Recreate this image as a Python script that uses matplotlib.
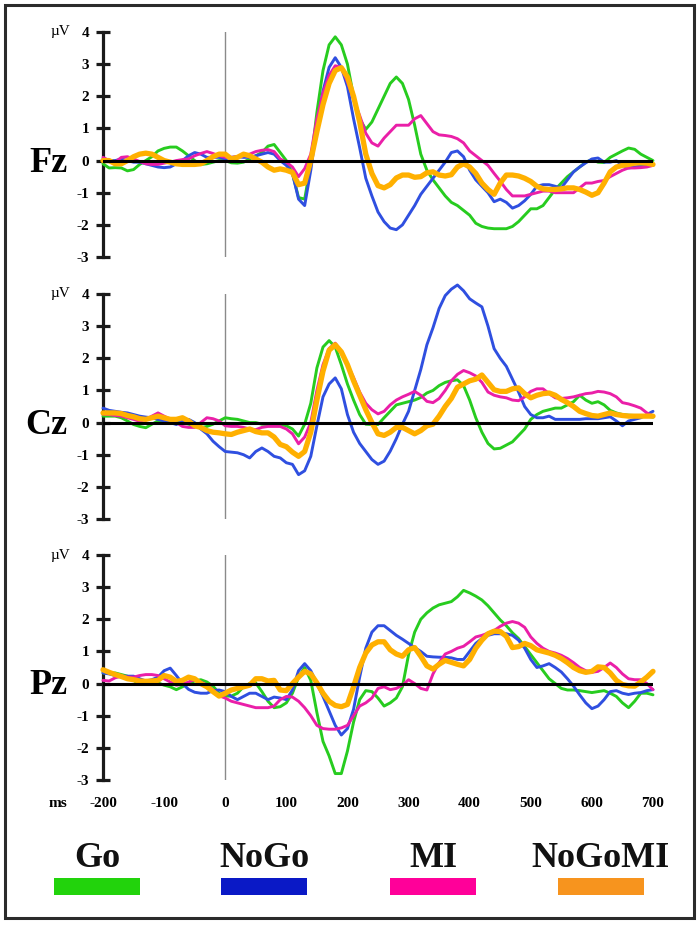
"""
ERP grand averages at Fz, Cz and Pz for the Go / NoGo / MI / NoGoMI conditions.
"""
import matplotlib
matplotlib.use("Agg")
import matplotlib.pyplot as plt
from matplotlib.patches import Rectangle
from matplotlib.transforms import blended_transform_factory

plt.rcParams["font.family"] = ["Liberation Serif", "DejaVu Serif"]
plt.rcParams["axes.unicode_minus"] = False

# ── Data (µV, sampled every 10 ms from -200 to 700 ms) ───────────────────────
TIME_MS = list(range(-200, 701, 10))

CONDITIONS = ["Go", "NoGo", "MI", "NoGoMI"]
ELECTRODES = ["Fz", "Cz", "Pz"]

FZ_GO = [
    -0.10, -0.23, -0.22, -0.23, -0.32, -0.28, -0.12, 0.00, 0.12, 0.30,
    0.38, 0.42, 0.42, 0.30, 0.15, 0.00, -0.12, -0.10, -0.05, 0.00,
    0.00, -0.07, -0.08, -0.05, 0.05, 0.15, 0.25, 0.45, 0.50, 0.25,
    0.00, -0.40, -1.15, -1.20, -0.10, 1.50, 2.80, 3.60, 3.85, 3.60,
    3.00, 2.00, 1.30, 0.97, 1.20, 1.60, 2.00, 2.40, 2.60, 2.40,
    1.90, 1.10, 0.20, -0.30, -0.60, -0.85, -1.10, -1.30, -1.40, -1.55,
    -1.70, -1.95, -2.05, -2.10, -2.12, -2.12, -2.12, -2.05, -1.90, -1.70,
    -1.50, -1.50, -1.40, -1.15, -0.90, -0.70, -0.50, -0.35, -0.20, -0.05,
    0.03, -0.05, -0.06, 0.10, 0.20, 0.30, 0.39, 0.35, 0.20, 0.10,
    0.00,
]
FZ_NOGO = [
    0.05, 0.00, 0.00, 0.05, 0.00, -0.05, -0.05, -0.10, -0.15, -0.20,
    -0.22, -0.20, -0.10, 0.00, 0.15, 0.25, 0.20, 0.10, 0.10, 0.10,
    0.05, 0.10, 0.12, 0.10, 0.10, 0.15, 0.20, 0.25, 0.20, 0.00,
    -0.15, -0.40, -1.20, -1.40, -0.30, 1.10, 2.16, 2.90, 3.20, 2.90,
    2.30, 1.30, 0.40, -0.55, -1.10, -1.60, -1.90, -2.10, -2.15, -2.00,
    -1.70, -1.40, -1.05, -0.80, -0.55, -0.30, -0.05, 0.25, 0.30, 0.12,
    -0.30, -0.60, -0.80, -1.00, -1.28, -1.20, -1.30, -1.48, -1.40, -1.25,
    -1.05, -0.80, -0.75, -0.75, -0.80, -0.85, -0.60, -0.35, -0.20, -0.07,
    0.05, 0.08, -0.05, -0.05, 0.00, -0.15, -0.23, -0.20, -0.17, -0.15,
    -0.15,
]
FZ_MI = [
    0.10, 0.00, -0.05, 0.10, 0.12, 0.05, -0.03, -0.10, -0.12, -0.12,
    -0.08, -0.05, 0.00, 0.03, 0.05, 0.15, 0.22, 0.28, 0.22, 0.15,
    0.10, 0.10, 0.12, 0.15, 0.20, 0.28, 0.32, 0.34, 0.28, 0.05,
    -0.05, -0.20, -0.50, -0.25, 0.20, 1.30, 2.10, 2.65, 2.95, 2.90,
    2.45, 1.90, 1.40, 0.85, 0.55, 0.45, 0.70, 0.90, 1.10, 1.10,
    1.10, 1.30, 1.40, 1.15, 0.90, 0.80, 0.78, 0.75, 0.68, 0.55,
    0.30, 0.15, 0.00, -0.15, -0.40, -0.64, -0.90, -1.10, -1.10, -1.10,
    -1.05, -1.00, -0.95, -0.95, -1.00, -1.00, -1.00, -1.00, -0.85, -0.70,
    -0.70, -0.65, -0.62, -0.50, -0.40, -0.30, -0.23, -0.23, -0.22, -0.20,
    -0.15,
]
FZ_NOGOMI = [
    0.00, 0.00, -0.10, -0.10, 0.00, 0.12, 0.20, 0.23, 0.20, 0.10,
    0.00, -0.05, -0.10, -0.12, -0.12, -0.12, -0.10, 0.00, 0.12, 0.20,
    0.20, 0.05, 0.10, 0.20, 0.15, 0.05, -0.05, -0.20, -0.30, -0.26,
    -0.30, -0.37, -0.75, -0.70, 0.00, 0.90, 1.74, 2.40, 2.80, 2.89,
    2.60, 2.00, 1.20, 0.20, -0.40, -0.78, -0.85, -0.75, -0.54, -0.45,
    -0.45, -0.52, -0.50, -0.38, -0.35, -0.45, -0.48, -0.44, -0.20, -0.10,
    -0.20, -0.40, -0.70, -0.90, -1.05, -0.70, -0.45, -0.45, -0.48, -0.55,
    -0.65, -0.80, -0.88, -0.90, -0.90, -0.88, -0.85, -0.85, -0.90, -0.98,
    -1.08, -1.00, -0.70, -0.35, -0.20, -0.15, -0.12, -0.08, -0.07, -0.08,
    -0.12,
]

CZ_GO = [
    0.20, 0.20, 0.20, 0.15, 0.05, -0.06, -0.12, -0.16, -0.05, 0.05,
    0.05, 0.05, 0.05, 0.00, -0.05, -0.10, -0.16, -0.12, -0.05, 0.05,
    0.15, 0.12, 0.10, 0.05, 0.00, 0.00, -0.05, -0.06, -0.06, -0.06,
    -0.10, -0.20, -0.42, -0.05, 0.60, 1.70, 2.35, 2.55, 2.35, 1.80,
    1.20, 0.70, 0.25, -0.05, -0.06, -0.06, 0.15, 0.35, 0.55, 0.60,
    0.65, 0.70, 0.78, 0.92, 1.00, 1.15, 1.25, 1.30, 1.33, 1.15,
    0.70, 0.15, -0.30, -0.65, -0.82, -0.80, -0.70, -0.60, -0.40, -0.20,
    0.10, 0.25, 0.35, 0.40, 0.45, 0.45, 0.55, 0.65, 0.85, 0.70,
    0.60, 0.65, 0.55, 0.38, 0.30, 0.25, 0.23, 0.22, 0.22, 0.20,
    0.17,
]
CZ_NOGO = [
    0.45, 0.38, 0.35, 0.32, 0.30, 0.25, 0.20, 0.17, 0.15, 0.10,
    0.05, 0.00, -0.06, 0.05, 0.10, 0.00, -0.20, -0.35, -0.58, -0.75,
    -0.90, -0.92, -0.94, -1.00, -1.10, -0.90, -0.79, -0.90, -1.05, -1.10,
    -1.25, -1.30, -1.62, -1.50, -1.05, -0.10, 0.80, 1.20, 1.39, 1.05,
    0.25, -0.30, -0.65, -0.90, -1.15, -1.30, -1.20, -0.89, -0.50, -0.05,
    0.35, 1.00, 1.65, 2.42, 2.95, 3.55, 3.95, 4.15, 4.28, 4.10,
    3.85, 3.72, 3.60, 3.00, 2.30, 2.00, 1.75, 1.35, 0.95, 0.50,
    0.25, 0.15, 0.15, 0.20, 0.10, 0.10, 0.10, 0.10, 0.10, 0.12,
    0.12, 0.12, 0.15, 0.18, 0.05, -0.10, 0.05, 0.10, 0.15, 0.25,
    0.35,
]
CZ_MI = [
    0.26, 0.25, 0.22, 0.20, 0.15, 0.10, 0.04, 0.10, 0.20, 0.30,
    0.20, 0.10, 0.00, -0.12, -0.15, -0.15, 0.00, 0.15, 0.12, 0.05,
    -0.10, -0.12, -0.12, -0.15, -0.20, -0.22, -0.15, -0.12, -0.12, -0.12,
    -0.20, -0.35, -0.66, -0.45, 0.00, 1.00, 1.80, 2.30, 2.47, 2.20,
    1.80, 1.40, 0.95, 0.60, 0.40, 0.27, 0.35, 0.55, 0.70, 0.80,
    0.88, 0.97, 0.85, 0.66, 0.62, 0.75, 1.00, 1.30, 1.50, 1.62,
    1.55, 1.45, 1.25, 0.95, 0.85, 0.80, 0.77, 0.70, 0.68, 0.80,
    0.97, 1.05, 1.05, 0.90, 0.77, 0.75, 0.77, 0.80, 0.85, 0.90,
    0.92, 0.97, 0.95, 0.90, 0.80, 0.62, 0.58, 0.52, 0.45, 0.30,
    0.20,
]
CZ_NOGOMI = [
    0.30, 0.30, 0.30, 0.28, 0.22, 0.18, 0.12, 0.10, 0.15, 0.20,
    0.15, 0.10, 0.10, 0.15, 0.05, -0.10, -0.15, -0.25, -0.30, -0.32,
    -0.35, -0.37, -0.30, -0.25, -0.20, -0.28, -0.32, -0.32, -0.45, -0.68,
    -0.75, -0.92, -1.05, -0.90, -0.30, 0.70, 1.60, 2.25, 2.42, 2.20,
    1.80, 1.30, 0.85, 0.40, 0.00, -0.35, -0.40, -0.30, -0.15, -0.15,
    -0.25, -0.35, -0.25, -0.10, -0.05, 0.20, 0.50, 0.75, 1.10, 1.20,
    1.30, 1.35, 1.48, 1.25, 1.02, 0.97, 0.97, 1.05, 1.08, 0.90,
    0.77, 0.85, 0.90, 0.92, 0.85, 0.72, 0.62, 0.50, 0.35, 0.28,
    0.22, 0.20, 0.25, 0.30, 0.25, 0.22, 0.20, 0.20, 0.20, 0.20,
    0.20,
]

PZ_GO = [
    0.33, 0.33, 0.33, 0.28, 0.23, 0.10, -0.03, 0.00, 0.02, 0.02,
    -0.05, -0.10, -0.19, -0.10, 0.00, 0.08, 0.12, 0.05, -0.08, -0.30,
    -0.39, -0.39, -0.30, -0.10, 0.00, 0.02, -0.25, -0.55, -0.75, -0.72,
    -0.60, -0.30, 0.20, 0.50, 0.10, -0.90, -1.80, -2.25, -2.80, -2.80,
    -2.10, -1.20, -0.50, -0.22, -0.25, -0.45, -0.70, -0.60, -0.45, -0.10,
    0.90, 1.60, 2.00, 2.20, 2.35, 2.45, 2.50, 2.55, 2.70, 2.90,
    2.82, 2.72, 2.60, 2.42, 2.20, 1.98, 1.80, 1.58, 1.40, 1.15,
    0.90, 0.65, 0.40, 0.15, 0.00, -0.15, -0.20, -0.20, -0.22, -0.25,
    -0.28, -0.25, -0.22, -0.30, -0.40, -0.60, -0.75, -0.55, -0.30, -0.30,
    -0.35,
]
PZ_NOGO = [
    0.33, 0.30, 0.25, 0.23, 0.23, 0.23, 0.15, 0.08, 0.12, 0.20,
    0.40, 0.48, 0.25, 0.00, -0.18, -0.27, -0.30, -0.30, -0.22, -0.20,
    -0.25, -0.40, -0.50, -0.40, -0.30, -0.30, -0.40, -0.50, -0.42, -0.45,
    -0.50, -0.20, 0.40, 0.62, 0.40, 0.00, -0.40, -0.85, -1.30, -1.60,
    -1.40, -0.80, 0.20, 1.10, 1.60, 1.80, 1.80, 1.65, 1.50, 1.38,
    1.25, 1.12, 1.00, 0.85, 0.83, 0.82, 0.82, 0.80, 0.75, 0.75,
    1.00, 1.25, 1.40, 1.50, 1.55, 1.55, 1.55, 1.50, 1.35, 1.10,
    0.75, 0.50, 0.55, 0.62, 0.50, 0.36, 0.15, -0.08, -0.35, -0.60,
    -0.78, -0.70, -0.50, -0.25, -0.22, -0.30, -0.34, -0.30, -0.28, -0.22,
    -0.19,
]
PZ_MI = [
    0.10, 0.08, 0.18, 0.23, 0.20, 0.20, 0.25, 0.28, 0.28, 0.25,
    0.15, 0.05, -0.05, -0.02, 0.05, 0.12, 0.05, -0.05, -0.20, -0.38,
    -0.45, -0.55, -0.60, -0.65, -0.70, -0.75, -0.75, -0.75, -0.70, -0.50,
    -0.40, -0.42, -0.55, -0.75, -1.00, -1.30, -1.40, -1.42, -1.42, -1.38,
    -1.30, -1.00, -0.70, -0.60, -0.45, -0.15, -0.10, -0.19, -0.15, -0.05,
    0.12, 0.00, -0.15, -0.20, 0.30, 0.65, 0.92, 1.00, 1.10, 1.16,
    1.30, 1.45, 1.50, 1.57, 1.65, 1.78, 1.88, 1.93, 1.88, 1.75,
    1.45, 1.25, 1.10, 1.00, 0.95, 0.88, 0.78, 0.65, 0.50, 0.40,
    0.35, 0.38, 0.50, 0.64, 0.50, 0.30, 0.15, 0.12, 0.12, 0.00,
    -0.19,
]
PZ_NOGOMI = [
    0.43, 0.35, 0.28, 0.22, 0.15, 0.12, 0.08, 0.07, 0.08, 0.10,
    0.25, 0.20, 0.07, 0.10, 0.20, 0.15, 0.00, -0.10, -0.25, -0.39,
    -0.30, -0.20, -0.15, -0.10, -0.05, 0.15, 0.15, 0.08, 0.10, -0.20,
    -0.22, 0.00, 0.20, 0.38, 0.30, 0.02, -0.30, -0.55, -0.68, -0.72,
    -0.65, -0.10, 0.50, 0.95, 1.20, 1.30, 1.30, 1.05, 0.92, 0.85,
    1.05, 1.12, 0.85, 0.55, 0.45, 0.60, 0.72, 0.66, 0.60, 0.55,
    0.75, 1.10, 1.35, 1.55, 1.63, 1.62, 1.47, 1.12, 1.15, 1.25,
    1.18, 1.05, 1.00, 0.95, 0.88, 0.78, 0.65, 0.50, 0.40, 0.35,
    0.38, 0.52, 0.50, 0.33, 0.10, -0.03, -0.07, -0.08, 0.05, 0.20,
    0.38,
]

PANEL_DATA = [
    [FZ_GO, FZ_NOGO, FZ_MI, FZ_NOGOMI],
    [CZ_GO, CZ_NOGO, CZ_MI, CZ_NOGOMI],
    [PZ_GO, PZ_NOGO, PZ_MI, PZ_NOGOMI],
]

# ── Style ─────────────────────────────────────────────────────────────────────
LINE_COLORS   = ["#27cc1f", "#2f4fe0", "#ea1fa8", "#ffb000"]
LINE_WIDTHS   = [2.1, 2.1, 2.1, 3.8]
LEGEND_COLORS = ["#22d30c", "#0a19c6", "#ff0099", "#f7941e"]

W, H = 700, 926
AX_LEFT, AX_RIGHT = 103, 653
PANEL_TOPS = [32, 294, 555]
PANEL_H = 225


def px_box(left, top, right, bottom):
    return [left / W, 1 - bottom / H, (right - left) / W, (bottom - top) / H]


fig = plt.figure(figsize=(W / 100, H / 100), dpi=100)

# overlay in pixel coordinates for frame and legend
overlay = fig.add_axes([0, 0, 1, 1])
overlay.set_xlim(0, W)
overlay.set_ylim(H, 0)
overlay.axis("off")
overlay.add_patch(Rectangle((5, 5), 689, 913, fill=False, lw=2.2, ec="#2b2b2b"))

for i, (name, series) in enumerate(zip(ELECTRODES, PANEL_DATA)):
    top = PANEL_TOPS[i]
    ax = fig.add_axes(px_box(AX_LEFT, top, AX_RIGHT, top + PANEL_H))
    ax.patch.set_alpha(0)
    ax.set_xlim(-200, 700)
    ax.set_ylim(-3, 4)
    trans = blended_transform_factory(ax.transAxes, ax.transData)

    ax.axvline(0, color="#8a8a8a", lw=1.0, zorder=1)
    for vals, col, lw in zip(series, LINE_COLORS, LINE_WIDTHS):
        ax.plot(TIME_MS, vals, color=col, lw=lw, clip_on=False,
                solid_capstyle="round", solid_joinstyle="round", zorder=3)
    ax.axhline(0, color="black", lw=2.2, zorder=10)

    for s in ["top", "right", "bottom"]:
        ax.spines[s].set_visible(False)
    ax.spines["left"].set_linewidth(2.3)
    ax.spines["left"].set_color("#1a1a1a")

    ax.set_yticks(range(-3, 5))
    ax.tick_params(axis="y", direction="inout", length=10, width=2.3,
                   color="#1a1a1a", labelsize=11, pad=5)
    for lbl in ax.get_yticklabels():
        lbl.set_fontweight("bold")

    if i == len(ELECTRODES) - 1:
        ax.set_xticks(range(-200, 701, 100))
        ax.tick_params(axis="x", length=0, labelsize=11, pad=12)
        for lbl in ax.get_xticklabels():
            lbl.set_fontweight("bold")
        ax.text(-0.082, -3.53, "ms", transform=trans,
                ha="center", va="top", fontsize=11, fontweight="bold")
    else:
        ax.set_xticks([])

    ax.text(-0.06, 4, "µV", transform=trans, ha="right", va="center", fontsize=11)
    ax.text(-0.065, -0.34, name, transform=trans, ha="right", va="baseline",
            fontsize=26, fontweight="bold")

# ── Legend ────────────────────────────────────────────────────────────────────
LEG_CENTERS = [97, 264, 433, 601]
for label, col, cx in zip(CONDITIONS, LEGEND_COLORS, LEG_CENTERS):
    overlay.text(cx, 867, label, ha="center", va="baseline",
                 fontsize=26, fontweight="bold", color="#111111")
    overlay.add_patch(Rectangle((cx - 43, 878), 86, 17, color=col, lw=0))

fig.savefig("out.png", dpi=100)
